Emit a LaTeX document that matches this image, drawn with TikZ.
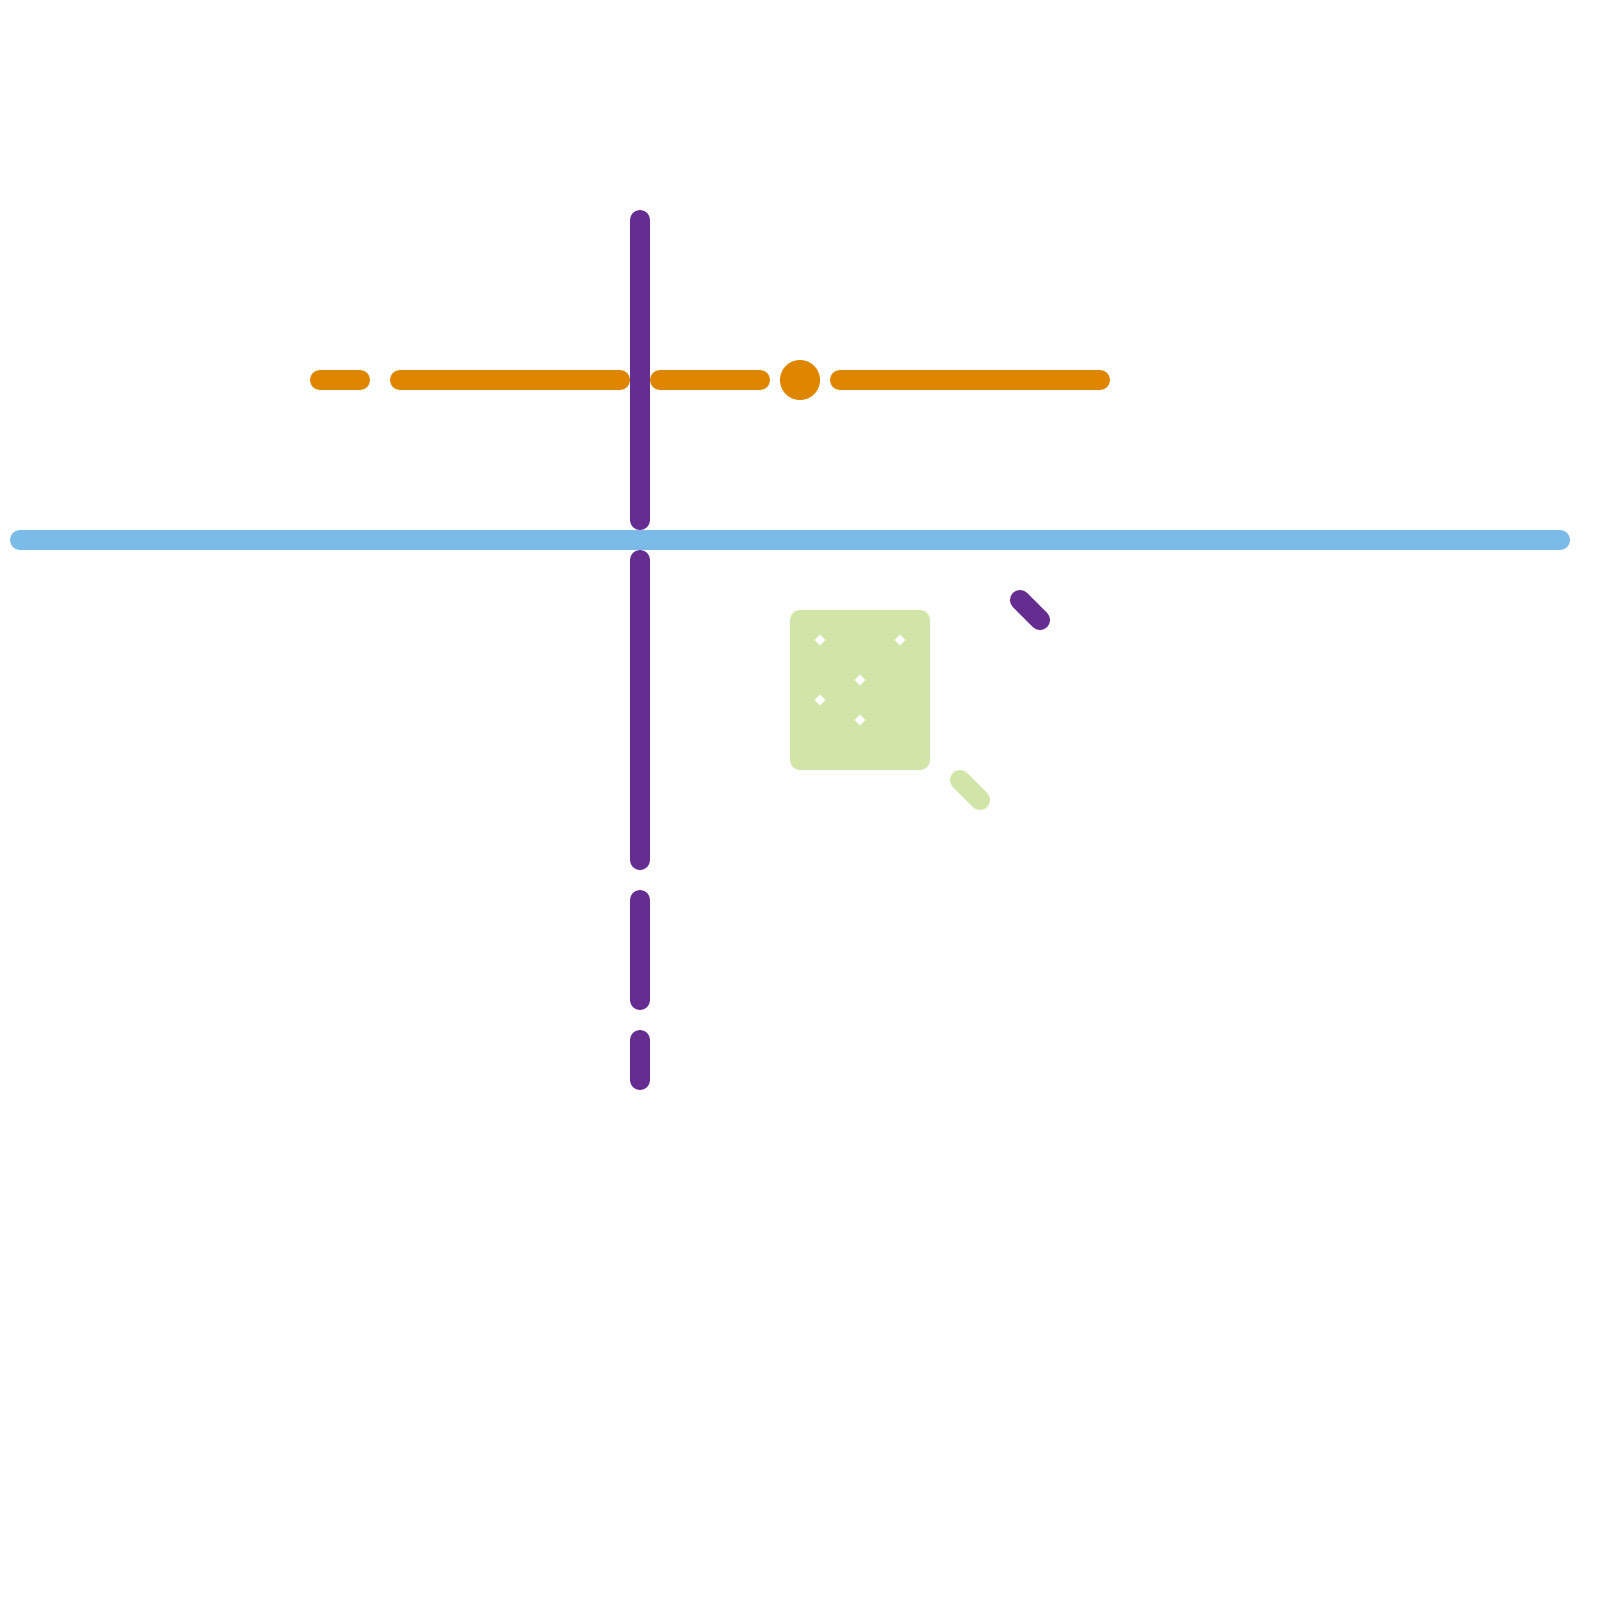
\documentclass[tikz,border=0pt]{standalone}
\usepackage{tikz}
\usetikzlibrary{shapes.geometric}
\definecolor{linkorange}{HTML}{DE8600}
\definecolor{linkpurple}{HTML}{662D91}
\definecolor{linkblue}{HTML}{7ABBE8}
\definecolor{linkgreen}{HTML}{D1E5A8}

\begin{document}
\begin{tikzpicture}[
    x=0.2cm,
    y=-0.2cm,
    stroke/.style={draw=#1, line width=2mm, line cap=round},
    hole/.style={diamond, fill=white, inner sep=0pt, minimum size=1.15mm},
  ]
  \useasboundingbox (0,0) rectangle (80,80);

  % === Orange row ===
  \foreach \a/\b in {16/18, 20/31, 33/38, 42/55} {
    \draw[stroke=linkorange] (\a,19) -- (\b,19);
  }
  \node[circle, fill=linkorange, inner sep=0pt, minimum size=4mm] (dot) at (40,19) {};

  % === Purple column ===
  \foreach \a/\b in {11/26, 28/43, 45/50, 52/54} {
    \draw[stroke=linkpurple] (32,\a) -- (32,\b);
  }

  % === Blue band ===
  \draw[stroke=linkblue] (1,27) -- (78,27);

  % === Green block ===
  \fill[linkgreen, rounded corners=1mm] (39.5,30.5) rectangle (46.5,38.5);
  \foreach \x/\y [count=\i] in {41/32, 45/32, 43/34, 41/35, 43/36} {
    \node[hole] (hole\i) at (\x,\y) {};
  }

  % === Short diagonals ===
  \draw[stroke=linkpurple] (51,30) -- (52,31);
  \draw[stroke=linkgreen] (48,39) -- (49,40);

\end{tikzpicture}
\end{document}
